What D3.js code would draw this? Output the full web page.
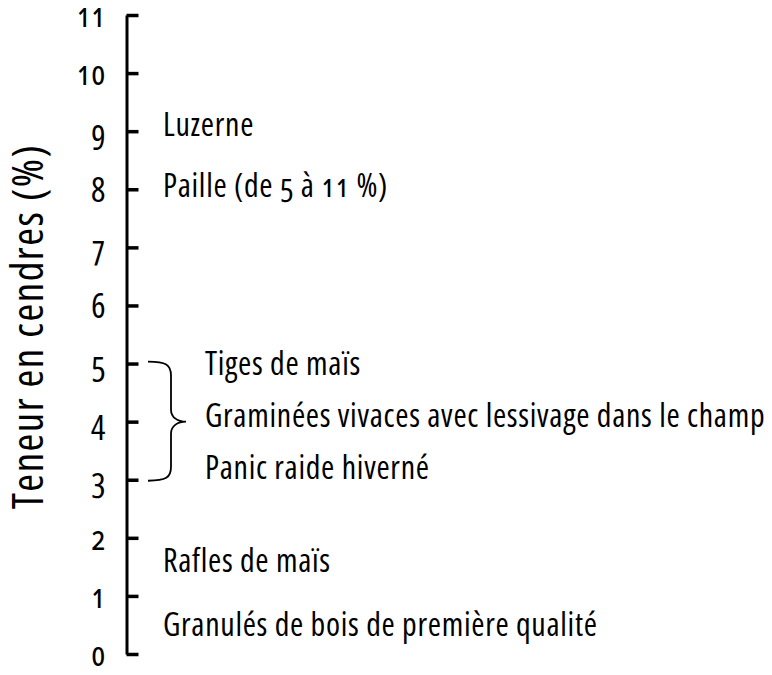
<!DOCTYPE html>
<html>
<head>
<meta charset="utf-8">
<script src="https://cdn.jsdelivr.net/npm/d3@7"></script>
<style>
  body { margin: 0; background: #fff; }
  svg text { font-family: "Open Sans", "Noto Sans", sans-serif; font-stretch: condensed; font-variant-numeric: oldstyle-nums; fill: #000; }
  .axis path, .axis line { stroke: #000; }
  .label { font-size: 32px; letter-spacing: 0.7px; }
  .title { font-size: 43px; letter-spacing: 1.5px; }
</style>
</head>
<body>
<script>
  // Ash content (%) per biomass type, as placed on the scale
  var materials = [
    "Luzerne",
    "Paille (de 5 à 11 %)",
    "Tiges de maïs",
    "Graminées vivaces avec lessivage dans le champ",
    "Panic raide hiverné",
    "Rafles de maïs",
    "Granulés de bois de première qualité"
  ];
  var ashValues = [9.1, 8.05, 5, 4.1, 3.2, 1.6, 0.5];
  // which materials belong to the bracketed 3-5 % group
  var bracketed = [false, false, true, true, true, false, false];
  var bracketRange = [3, 5];
  var bracketTip = 4;

  var tickValues = [0, 1, 2, 3, 4, 5, 6, 7, 8, 9, 10, 11];
  var axisTitle = "Teneur en cendres (%)";

  var width = 772, height = 675;
  var axisX = 126.5;

  var svg = d3.select("body").append("svg")
    .attr("width", width)
    .attr("height", height);

  var y = d3.scaleLinear().domain([0, 11]).range([654, 15]);

  // Axis: ticks point inward (right), labels on the left
  var axis = svg.append("g")
    .attr("class", "axis")
    .attr("transform", "translate(" + axisX + ",0)")
    .call(d3.axisLeft(y)
      .tickValues(tickValues)
      .tickSizeInner(-12)
      .tickSizeOuter(0)
      .tickPadding(21)
      .tickFormat(d3.format("d")));

  axis.select(".domain").attr("stroke-width", 3);
  axis.selectAll(".tick line").attr("stroke-width", 3.5);
  axis.selectAll(".tick text")
    .attr("dy", "0.35em")
    .attr("fill", "#000")
    .style("font-size", "34px");

  // Axis title
  svg.append("text")
    .attr("class", "title")
    .attr("transform", "translate(43,326.5) rotate(-90)")
    .attr("text-anchor", "middle")
    .text(axisTitle);

  // Material labels
  svg.selectAll(".label")
    .data(materials)
    .enter().append("text")
    .attr("class", "label")
    .attr("x", function(d, i) { return bracketed[i] ? 205 : 163; })
    .attr("y", function(d, i) { return y(ashValues[i]); })
    .attr("dy", "0.345em")
    .text(function(d) { return d; });

  // Curly brace grouping the 3-5 % materials
  var bx0 = 148, bx1 = 171, bxTip = 186;
  var bTop = y(bracketRange[1]) - 2;
  var bBottom = y(bracketRange[0]) + 1;
  var bMid = y(bracketTip);

  var brace = d3.path();
  brace.moveTo(bx0, bTop);
  brace.bezierCurveTo(bx0 + 18, bTop, bx1, bTop + 3, bx1, bTop + 14);
  brace.lineTo(bx1, bMid - 12);
  brace.bezierCurveTo(bx1, bMid - 4, bxTip - 8, bMid, bxTip, bMid);
  brace.bezierCurveTo(bxTip - 8, bMid, bx1, bMid + 4, bx1, bMid + 12);
  brace.lineTo(bx1, bBottom - 14);
  brace.bezierCurveTo(bx1, bBottom - 3, bx0 + 18, bBottom, bx0, bBottom);

  svg.append("path")
    .attr("d", brace.toString())
    .attr("fill", "none")
    .attr("stroke", "#000")
    .attr("stroke-width", 1.8);
</script>
</body>
</html>
